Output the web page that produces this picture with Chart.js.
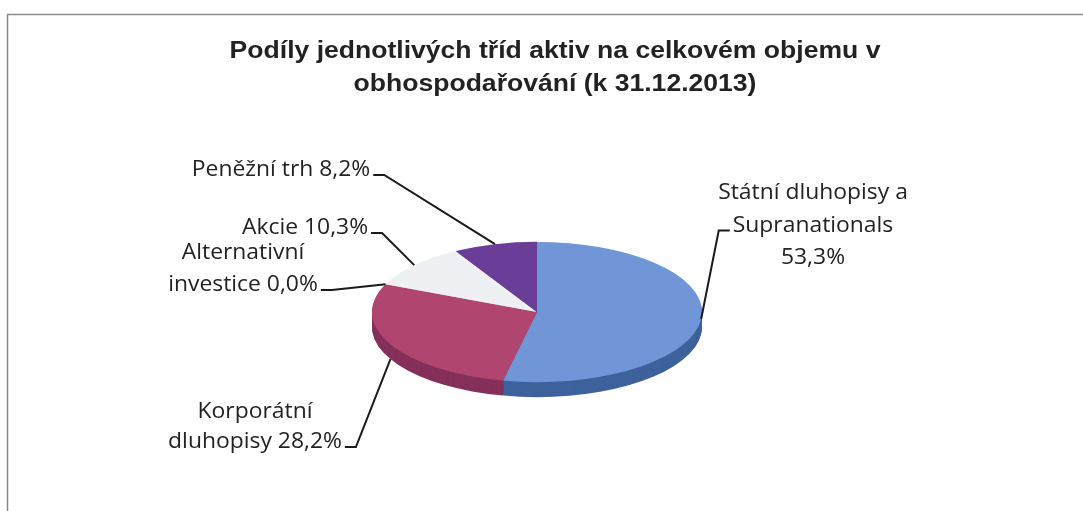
<!DOCTYPE html>
<html>
<head>
<meta charset="utf-8">
<script src="https://cdn.jsdelivr.net/npm/chart.js@4/dist/chart.umd.min.js"></script>
<style>
  html, body { margin: 0; padding: 0; background: #ffffff; }
  #wrap { width: 1083px; height: 511px; }
</style>
</head>
<body>
<div id="wrap"><canvas id="c" width="1083" height="511"></canvas></div>
<script>
// ---- data ----
const titleLines = ["Podíly jednotlivých tříd aktiv na celkovém objemu v", "obhospodařování (k 31.12.2013)"];
const categories = ["Státní dluhopisy a Supranationals", "Korporátní dluhopisy", "Alternativní investice", "Akcie", "Peněžní trh"];
const shares = [53.3, 28.2, 0.0, 10.3, 8.2];
const labelLines = [
  ["Státní dluhopisy a", "Supranationals", "53,3%"],
  ["Korporátní", "dluhopisy 28,2%"],
  ["Alternativní", "investice 0,0%"],
  ["Akcie 10,3%"],
  ["Peněžní trh 8,2%"]
];

// ---- styles / layout ----
const topColors  = ["#7096D8", "#B0466F", "#9BBB59", "#EEF0F4", "#6A3D99"];
const sideColors = ["#3D629B", "#85305A", "#76903F", "#C5C9D0", "#4C2B70"];
const TILT = 0.425;      // vertical squash of the pie
const DEPTH = 15;        // side thickness in px
const labelLayout = [
  {x: 813, y: 193, lh: 32.5, side: 'left',  line: 1},
  {x: 255, y: 412, lh: 30,   side: 'right', line: 1},
  {x: 243, y: 253, lh: 32,   side: 'right', line: 1},
  {x: 305, y: 228, lh: 30,   side: 'right', line: 0},
  {x: 281, y: 170, lh: 30,   side: 'right', line: 0}
];
const LABEL_FONT = '22px "Open Sans"';
const LABEL_SX = 1.04;
const TITLE_FONT = 'bold 23.5px "Liberation Sans"';
const TITLE_SX = 1.13;

function squash(ctx, cx, cy) {
  ctx.translate(cx, cy); ctx.scale(1, TILT); ctx.translate(-cx, -cy);
}
function textSX(ctx, t, x, y, sx) {
  ctx.save();
  ctx.translate(x, y);
  ctx.scale(sx, 1);
  ctx.fillText(t, 0, 0);
  ctx.restore();
}

const framePlugin = {
  id: 'frame',
  beforeDraw(chart) {
    const ctx = chart.ctx;
    ctx.save();
    ctx.fillStyle = '#ffffff';
    ctx.fillRect(0, 0, chart.width, chart.height);
    ctx.strokeStyle = '#8a8a8a';
    ctx.lineWidth = 1.5;
    ctx.beginPath();
    ctx.moveTo(7.5, chart.height);
    ctx.lineTo(7.5, 14.5);
    ctx.lineTo(chart.width, 14.5);
    ctx.stroke();
    // title
    ctx.fillStyle = '#222222';
    ctx.font = TITLE_FONT;
    ctx.textAlign = 'center';
    ctx.textBaseline = 'middle';
    titleLines.forEach((t, i) => textSX(ctx, t, 555, 52 + i * 33, TITLE_SX));
    ctx.restore();
  }
};

const pie3dPlugin = {
  id: 'pie3d',
  beforeDatasetsDraw(chart) {
    const ctx = chart.ctx;
    const meta = chart.getDatasetMeta(0);
    const a0 = meta.data[0];
    const cx = a0.x, cy = a0.y, r = a0.outerRadius;
    for (let d = DEPTH; d >= 1; d--) {
      ctx.save();
      ctx.translate(0, d);
      squash(ctx, cx, cy);
      meta.data.forEach((arc, i) => {
        if (arc.endAngle - arc.startAngle <= 0) return;
        ctx.beginPath();
        ctx.moveTo(cx, cy);
        ctx.arc(cx, cy, r, arc.startAngle, arc.endAngle);
        ctx.closePath();
        ctx.fillStyle = sideColors[i];
        ctx.fill();
      });
      ctx.restore();
    }
    ctx.save();
    squash(ctx, cx, cy);
  },
  afterDatasetsDraw(chart) {
    chart.ctx.restore();
  },
  afterDraw(chart) {
    const ctx = chart.ctx;
    const meta = chart.getDatasetMeta(0);
    ctx.save();
    ctx.font = LABEL_FONT;
    ctx.fillStyle = '#222222';
    ctx.strokeStyle = '#1a1a1a';
    ctx.lineWidth = 2;
    ctx.textAlign = 'center';
    ctx.textBaseline = 'middle';
    meta.data.forEach((arc, i) => {
      const L = labelLayout[i];
      const lines = labelLines[i];
      lines.forEach((t, k) => textSX(ctx, t, L.x, L.y + k * L.lh, LABEL_SX));
      // leader line
      const mid = (arc.startAngle + arc.endAngle) / 2;
      let ax = arc.x + arc.outerRadius * Math.cos(mid);
      let ay = arc.y + arc.outerRadius * Math.sin(mid) * TILT;
      if (Math.sin(mid) > 0.2) ay += DEPTH;
      const w = ctx.measureText(lines[L.line]).width * LABEL_SX;
      const ly = L.y + L.line * L.lh + 5;
      let sx, ex;
      if (L.side === 'right') { sx = L.x + w / 2 + 3; ex = sx + 11; }
      else { sx = L.x - w / 2 - 3; ex = sx - 11; }
      ctx.beginPath();
      ctx.moveTo(sx, ly);
      ctx.lineTo(ex, ly);
      ctx.lineTo(ax, ay);
      ctx.stroke();
    });
    ctx.restore();
  }
};

new Chart(document.getElementById('c'), {
  type: 'pie',
  data: {
    labels: categories,
    datasets: [{
      data: shares,
      backgroundColor: topColors,
      borderWidth: 0,
      clip: false
    }]
  },
  options: {
    responsive: false,
    devicePixelRatio: 1,
    animation: false,
    events: [],
    radius: 165,
    layout: { padding: { left: 200, right: 209, top: 147, bottom: 34 } },
    plugins: {
      legend: { display: false },
      title: { display: false },
      tooltip: { enabled: false }
    }
  },
  plugins: [framePlugin, pie3dPlugin]
});
</script>
</body>
</html>
